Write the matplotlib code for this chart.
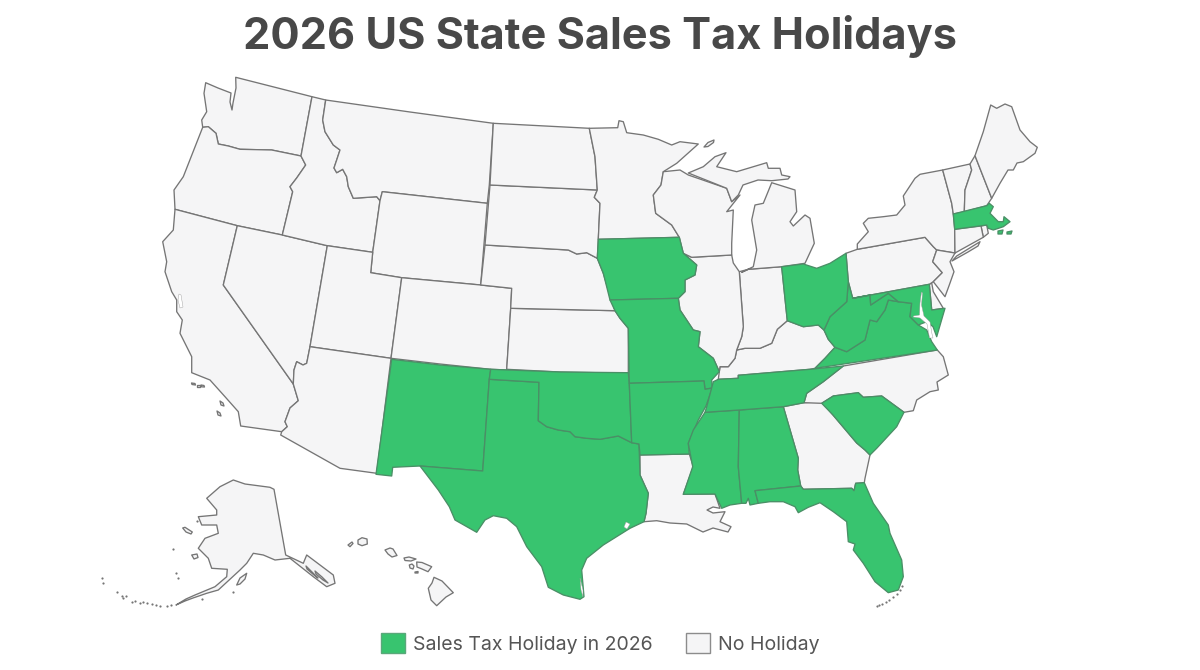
import matplotlib
matplotlib.use('Agg')
import matplotlib.pyplot as plt
from matplotlib.patches import Patch

plt.rcParams['font.family'] = ['Inter', 'DejaVu Sans']

# ====== Data: outlines (x, y in image pixels) ======

WA = [(205.7,82.7),(218,88),(231,93),(230,102),(232,110),(233,103),(236,88),(235.7,77.3),(312,96.7),(301,156),(271.7,150),(240,149.3),(228.3,146),(218.3,144),(216,133.3),(208.3,126.7),(202.7,127.3),(201.7,120),(206.7,111.7),(204,93.3)]
OR = [(202.7,127.3),(208.3,126.7),(216,133.3),(218.3,144),(228.3,146),(240,149.3),(271.7,150),(301,156),(305.7,165),(296.7,178),(290,186.7),(292.7,191.7),(282.3,235),(237.3,225.7),(175,209.3),(174,190),(183.3,176.7)]
CA = [(175,209.3),(237.3,225.7),(223.3,285),(293.3,384),(298.3,400.7),(290,408),(285,421.7),(287.3,426.7),(281.7,431.7),(240.7,426),(238.3,411.7),(225,396.7),(210,380),(191.7,372.7),(191.7,356.7),(180,333.3),(182.3,320),(176.7,311.7),(176.7,300),(171.7,291.7),(165,271.7),(166.7,261.7),(162.7,241.7),(173.3,230)]
NV = [(237.3,225.7),(282.3,235),(327.3,245.7),(310,346.7),(306.7,363.3),(303,365),(296.7,361.7),(294,370),(293.3,384),(223.3,285)]
ID = [(312,96.7),(325.7,100),(322.7,120),(325,131.7),(333.3,145),(340,150),(336.7,160),(334,168),(336.7,172.7),(342.7,169.3),(346.7,176.7),(348.3,186.7),(353.3,198.3),(376.7,196.7),(380,200.7),(372.7,252.3),(327.3,245.7),(282.3,235),(292.7,191.7),(290,186.7),(296.7,178),(305.7,165),(301,156)]
MT = [(325.7,100),(410,112),(493.3,123.3),(489.3,185),(487.3,203.3),(382.3,191.7),(380,200.7),(376.7,196.7),(353.3,198.3),(348.3,186.7),(346.7,176.7),(342.7,169.3),(336.7,172.7),(334,168),(336.7,160),(340,150),(333.3,145),(325,131.7),(322.7,120)]
WY = [(382.3,191.7),(487.3,203.3),(480.7,285),(401.7,277.7),(370.7,272.7),(372.7,252.3),(380,200.7)]
UT = [(327.3,245.7),(372.7,252.3),(370.7,272.7),(401.7,277.7),(391,358.3),(310,346.7)]
CO = [(401.7,277.7),(480.7,285),(511.7,288.3),(510.7,308.3),(506.7,370),(490.7,369.3),(440,364),(391,358.3)]
AZ = [(310,346.7),(391,358.3),(376.7,473.3),(340,468.3),(280.7,435),(281.7,431.7),(287.3,426.7),(285,421.7),(290,408),(298.3,400.7),(293.3,384),(294,370),(296.7,361.7),(303,365),(306.7,363.3)]
NM = [(391.7,359.3),(440,365),(490.7,369.3),(489.3,379.3),(482.7,471),(420,466),(392.7,467.3),(391.7,476),(376,474.3)]
TX = [(489.3,379.3),(539,382.3),(538.3,420.7),(546.7,426.7),(558.3,430),(570,431.7),(575,436.7),(586.7,438.3),(600,439.3),(618.3,436),(631.7,442.7),(639,444),(640,475),(648.3,493.3),(646,513.3),(644,521.7),(630,528.3),(603.3,545),(586.7,558.3),(581.7,570),(584,596.7),(580,599.3),(563.3,595),(548.3,587.3),(541.7,566.7),(526.7,546.7),(516.7,526.7),(506.7,518.3),(493.3,515.7),(485,520),(476.7,532.3),(455,520),(449.3,506.7),(438.3,490),(420,466),(482.7,471)]
OK = [(490.7,369.3),(560,372),(628.3,372.7),(629.3,383.3),(631.7,442.7),(618.3,436),(600,439.3),(586.7,438.3),(575,436.7),(570,431.7),(558.3,430),(546.7,426.7),(538.3,420.7),(539,382.3),(489.3,379.3)]
KS = [(510.7,308.3),(615,310.7),(620,318.3),(628.3,328.3),(628.3,373.3),(560,372),(506.7,369.3)]
NE = [(485,245),(568.3,250),(576.7,254),(586.7,252.7),(597.3,258.3),(603.3,273.3),(608.3,290),(615,310.7),(510.7,308.3),(511.7,288.3),(480.7,285)]
SD = [(490,185),(597.3,190),(594.3,197.3),(600,203.3),(598.3,239.3),(597.3,258.3),(586.7,252.7),(576.7,254),(568.3,250),(485,245)]
ND = [(493.3,123.3),(589.3,128.3),(595,156.7),(597.3,190),(490,185)]
MN = [(589.3,128.3),(617.7,127.7),(619,120.7),(623.3,121.7),(626.7,132.7),(643.3,135),(658.3,139.3),(671.7,145),(680,141.7),(698.3,144),(676.7,163.3),(663.3,171.7),(661,185),(653.3,195),(655.7,213.3),(671.7,225),(679.3,237.3),(598.3,239.3),(600,203.3),(594.3,197.3),(597.3,190),(595,156.7)]
IA = [(598.3,239.3),(679.3,237.3),(683.3,253.3),(696.7,265),(695,275),(685,280),(685,291.7),(678.3,298.3),(610,300),(603.3,273.3),(597.3,258.3)]
MO = [(610,300),(678.3,298.3),(680,310),(693.3,330),(700,331.7),(698.3,346.7),(713.3,358.3),(719.3,371.7),(711.7,380),(712.3,388),(705,389.3),(704,381),(629.3,383.3),(628.3,328.3),(620,318.3),(615,310.7)]
AR = [(629.3,383.3),(704,381),(705,389.3),(712.3,388),(706,406),(698.3,420),(688.3,443.3),(689.3,454),(640,455),(639,444),(631.7,442.7)]
LA = [(640,455),(689.3,454),(693.3,466.7),(683.3,494.3),(715,494),(720,508.3),(713,507),(707,510),(713,513),(725,511.7),(720,521.7),(731,526.7),(728,532),(713,528),(703,532),(686.7,524),(670,523),(656.7,520.7),(644,521.7),(646,513.3),(648.3,493.3),(640,475)]
MS = [(705,412.3),(739.3,410),(738.3,466.7),(741.7,503.3),(730,505),(721.7,508.3),(715,494),(683.3,494.3),(692.7,466.7),(688.3,443.3),(693.3,430)]
AL = [(739.3,410),(783.3,406.7),(798.3,458.3),(797.7,470),(800.7,486),(755,490.7),(758.3,503.3),(750,505),(748.3,498.3),(746,503.3),(741.7,503.3),(738.3,466.7)]
GA = [(783.3,406.7),(804,402.7),(821.7,401.7),(833,415),(856.7,443),(865,450),(870,455),(865,478.3),(864.3,482.7),(855.7,483.3),(854,490.7),(851.7,488.3),(803.3,489.3),(800.7,486),(797.7,470),(798.3,458.3)]
FL = [(755,490.7),(800.7,486),(803.3,489.3),(851.7,488.3),(854,490.7),(855.7,483.3),(864.3,482.7),(873.3,503.3),(888.3,525),(890,533.3),(901.7,560),(903.3,576.7),(898.3,590),(888.3,592.7),(875,581.7),(863.3,563.3),(853.3,550),(855,544),(848.3,541.7),(846.7,521.7),(833.3,511.7),(820,502.7),(808.3,507.3),(798.3,512.7),(795,506.7),(783.3,501.7),(770,501.7),(758.3,503.3)]
SC = [(821.7,403.3),(833.3,396),(858.3,392.7),(863.3,397.3),(881.7,396),(904,412.3),(896.7,426.7),(876.7,448.3),(870,455),(865,450),(856.7,443),(833,415)]
NC = [(804,402.7),(806.7,393.3),(823.3,381.7),(843.3,366),(937.3,350),(943.3,356.7),(948.3,375),(937,382),(938.3,390),(930,391.7),(916.7,400),(913.3,410.7),(904,412.3),(881.7,396),(863.3,397.3),(858.3,392.7),(833.3,396),(821.7,403.3)]
TN = [(843.3,366),(823.3,381.7),(806.7,393.3),(804,402.7),(783.3,406.7),(739.3,410),(705,412.3),(706.7,406.7),(713.3,381.7),(718.3,379.3),(738.3,378.3),(738.3,375.3),(810,369.3)]
KY = [(718.3,379.3),(720,366.7),(728.3,366.7),(735,358.3),(736.7,350),(745,348.3),(760,348.3),(771.7,343.3),(777.3,329.3),(787.3,320.7),(803.3,326.7),(818.3,325),(824,330),(828.3,339.3),(835,347.3),(825,358.3),(815,368.3),(810,369.3),(738.3,375.3),(738.3,378.3)]
VA = [(815,368.3),(937.3,350),(931.7,341.7),(926.7,330),(918.3,325),(910,316.7),(911.7,303.3),(898.3,301.7),(888.3,300),(885,310),(876.7,321.7),(870,320),(865,340),(846.7,351.7),(835,347.3),(825,358.3)]
WV = [(848.3,281.7),(852.7,298.3),(870,295),(870.7,305),(888.3,293.3),(898.3,301.7),(888.3,300),(885,310),(876.7,321.7),(870,320),(865,340),(846.7,351.7),(835,347.3),(828.3,339.3),(824,330),(830,316.7),(846.7,301.7)]
MD = [(852.7,298.3),(929.3,284.3),(931.7,310),(945,308.3),(936.7,336.7),(933,326.7),(926.7,321.7),(918.3,325),(910,316.7),(911.7,303.3),(898.3,301.7),(888.3,293.3),(870.7,305),(870,295)]
DE = [(929.3,284.3),(931.7,283),(933.3,291.7),(943.3,308.3),(931.7,310)]
PA = [(846,253.3),(857.3,249.3),(925,237.3),(933.3,246.7),(936.7,250),(932.7,261.7),(942.3,272.7),(933.3,281.7),(929.3,284.3),(852.7,298.3),(848.3,281.7)]
NY = [(857.3,249.3),(857.3,244),(868.3,231.7),(863.3,223.3),(868.3,218.3),(883.3,216.7),(896.7,215),(905,205),(903.3,196),(915,178.3),(920,174.3),(942.7,170),(951.7,203.3),(953.3,214),(954.7,229.3),(955,253),(936.7,250),(933.3,246.7),(925,237.3)]
LONG_ISLAND = [(956.7,256),(980,241.7),(978,246),(968,252),(952,261)]
NJ = [(936.7,250),(955,253),(950,261.7),(954,271.7),(949.3,285),(945,296.7),(933.3,281.7),(942.3,272.7),(932.7,261.7)]
VT = [(942.7,170),(970,164),(971.7,170),(965,190),(964.3,211.7),(953.3,214),(951.7,203.3)]
NH = [(970,164),(975,155.7),(991.7,198.3),(986.7,205.7),(964.3,211.7),(965,190),(971.7,170)]
ME = [(975,155.7),(983.3,131.7),(990.7,105),(996.7,108.3),(1005,104),(1011.7,106.7),(1020,130),(1030,141.7),(1037.3,147.3),(1035,153.3),(1023.3,161.7),(1017,163),(1013.3,170),(1008,170),(1000,183.3),(991.7,198.3)]
MA = [(953.3,214),(986.7,205.7),(989.3,203.3),(993.3,206.7),(990,213.3),(998.3,221.7),(1003.3,221.7),(1004,216.7),(1010,221.7),(1003.3,226.7),(993.3,230),(988.3,228.3),(986.7,225),(954.7,229.3)]
RI = [(981,226),(986.7,225),(988.3,233.3),(983.3,237.3)]
CT = [(954.7,229.3),(981,226),(983.3,237.3),(955,253)]
MA_ISLE_1 = [(998,231),(1003,230),(1002,234),(998,234)]
MA_ISLE_2 = [(1007,232),(1012,231),(1011,234),(1007,234)]
OH = [(781.7,266.7),(803.3,264),(816.7,268.3),(830,263.3),(846,253.3),(848.3,281.7),(846.7,301.7),(830,316.7),(824,330),(818.3,325),(803.3,326.7),(787.3,320.7)]
IN = [(739.3,271.7),(748.3,269.3),(781.7,266.7),(787.3,320.7),(777.3,329.3),(771.7,343.3),(760,348.3),(745,348.3),(736.7,350),(741.7,336.7),(743.3,326.7)]
IL = [(691.7,257.3),(731.7,255),(733.3,263),(739.3,271.7),(743.3,326.7),(741.7,336.7),(736.7,350),(735,358.3),(728.3,366.7),(720,366.7),(719.3,371.7),(713.3,358.3),(698.3,346.7),(700,331.7),(693.3,330),(680,310),(678.3,298.3),(685,291.7),(685,280),(695,275),(696.7,265),(683.3,253.3)]
WI = [(663.3,171.7),(680,170),(688.3,175),(726.7,188.3),(731.7,201.7),(740,195),(726.7,211.7),(733.3,210),(731.7,243.3),(731.7,255),(691.7,257.3),(683.3,253.3),(679.3,237.3),(671.7,225),(655.7,213.3),(653.3,195),(661,185)]
MI_UPPER = [(688.3,173),(703.3,166.7),(715,156.7),(726,152.7),(716.7,166.7),(736.7,171.7),(766.7,162.7),(768.3,168.3),(780,168.3),(781.7,175),(790,176.7),(788,179),(771.7,180.7),(758,180),(743,185),(738.3,195),(731.7,201.7),(726.7,188.3)]
MI_LOWER = [(771.7,182.7),(795,190),(796.7,211.7),(790,221.7),(793.3,226),(805,215),(810,218.3),(814.3,243.3),(805,263.3),(781.7,266.7),(748.3,269.3),(741.7,272.3),(753.3,266.7),(756.7,250),(751.7,220),(755,205),(763.3,203.3),(766.7,195)]
ISLE_ROYALE = [(704,147),(708,142.5),(714,140),(713.5,142.5),(708,146.5)]
AK = [(233.3,480),(245,484),(270,487.3),(274,489.3),(285.7,555),(303.3,563.3),(306.7,555),(333.3,575),(335,583.3),(326.7,586.7),(313.3,576.7),(290,558.3),(275,560),(263.3,555),(253.3,553.3),(246.7,563.3),(240,570),(218.3,590),(206.7,593.3),(193,598),(185,601),(176,605),(186,599),(195,595),(215,586.7),(226.7,576.7),(227.3,569.3),(211.7,568.3),(208.3,558.3),(198.3,548.3),(205,538.3),(218.3,533.3),(216.7,525),(201.7,525),(198.3,516.7),(216.7,515),(216.7,510),(206.7,498.3),(220,486.7)]
AK_SOUND_1 = [(306,566),(312,572),(318,578),(314,575),(307,569)]
AK_SOUND_2 = [(315,571),(322,577),(328,583),(323,580),(316,574)]
KODIAK = [(236.7,585),(240,578),(246.7,573.3),(245,579),(240,584)]
NUNIVAK = [(191.7,555),(197,554),(198,557.5),(194,559)]
ST_LAWRENCE = [(182.7,528),(185,527.3),(192.3,532),(191,534),(186,532)]
HI_BIG = [(434,577.3),(442,581),(453.3,592.7),(446,597),(436.7,605.7),(431,600),(428.3,588.3),(432,583)]
HI_MAUI = [(416.7,562),(422,562.5),(431.7,566.7),(428,571.7),(422,569),(417,567)]
HI_OAHU = [(385,550),(390,548),(393,549),(397,555.5),(392,557),(388,554)]
HI_MOLOKAI = [(404,558),(409,557),(416,559),(411,561),(405,560.5)]
HI_LANAI = [(409.3,565),(412,564),(414,566),(413,569),(410,568)]
HI_KAHOOLAWE = [(415,572),(418,571.5),(418,573),(415,573)]
HI_KAUAI = [(358,540),(362,537.7),(367,539),(367.3,544),(362,545.7),(358,544)]
HI_NIIHAU = [(348,545),(352,542),(353,543.5),(350,546.7)]
CA_ISLE_1 = [(191.5,383),(195,383.5),(195.5,385),(192,384.5)]
CA_ISLE_2 = [(196.5,385),(200,385),(200,386.8),(197,386.8)]
CA_ISLE_3 = [(201,385),(204,385.5),(204.5,387),(201.5,386.8)]
CA_ISLE_4 = [(220,401),(223,403),(224,406),(221,405)]
CA_ISLE_5 = [(217,411),(220,413),(221,416),(218,415)]

# states with a 2026 holiday and those without
holiday_parts = [NM, TX, OK, IA, MO, AR, MS, AL, FL, SC, TN, VA, WV, MD, OH, MA, MA_ISLE_1, MA_ISLE_2]
other_parts = [WA, OR, CA, NV, ID, MT, WY, UT, CO, AZ, KS, NE, SD, ND, MN, LA, GA, NC, KY, DE, PA, NY,
               LONG_ISLAND, NJ, VT, NH, ME, RI, CT, IN, IL, WI, MI_UPPER, MI_LOWER, ISLE_ROYALE, AK,
               AK_SOUND_1, AK_SOUND_2, KODIAK, NUNIVAK, ST_LAWRENCE, HI_BIG, HI_MAUI, HI_OAHU, HI_MOLOKAI,
               HI_LANAI, HI_KAHOOLAWE, HI_KAUAI, HI_NIIHAU, CA_ISLE_1, CA_ISLE_2, CA_ISLE_3, CA_ISLE_4,
               CA_ISLE_5]

# water cut out of the coast
chesapeake = [(921.5,292),(922.5,293),(921.5,305),(924,316),(930,322),(932,334),(933,338),(929.5,338),(927,324),(920,318),(913,317),(913.5,316),(919.5,315),(920,303)]
sf_bay = [(179,294),(181,295),(183,307),(180,308),(178,300)]
galveston = [(626,522),(630,524),(627,529),(624,527)]
padre = [(580,578),(583,590),(583,597),(581,590)]

# Aleutians and other specks, too small to be anything but dots
speck_x = [101.7,103,116.7,121.7,123,126,131.7,135,140,143,147,151.7,156,160,166.7,171,176,173.3,196.7,202.3,232.7,177.7]
speck_y = [578.3,582.7,592.3,596,598,596,601.7,601,602.7,602,603,604,604.5,605.7,605.7,605,573.3,549,520.7,599,591.7,578.3]
keys_x = [877,879,882,886,889,893,897,900,902]
keys_y = [606,605,604,602,600,597,594,590,586]

title = '2026 US State Sales Tax Holidays'
legend_labels = ['Sales Tax Holiday in 2026', 'No Holiday']

green = '#38C46F'
light = '#F5F5F6'
edge = '#757575'
text_color = '#484848'

# ====== Plot ======

fig = plt.figure(figsize=(12, 6.7), dpi=100)
ax = fig.add_axes([0, 0, 1, 1])
ax.set_xlim(0, 1200)
ax.set_ylim(670, 0)
ax.axis('off')

for part in other_parts:
    xs, ys = zip(*part)
    ax.fill(xs, ys, facecolor=light, edgecolor=edge, linewidth=0.95, joinstyle='round')
for part in holiday_parts:
    xs, ys = zip(*part)
    ax.fill(xs, ys, facecolor=green, edgecolor='#4A8F66', linewidth=0.95, joinstyle='round')
for part in [chesapeake, sf_bay, galveston, padre]:
    xs, ys = zip(*part)
    ax.fill(xs, ys, facecolor='white', edgecolor='#9a9a9a', linewidth=0.3)

ax.scatter(speck_x, speck_y, s=2.5, color=edge, linewidths=0)
ax.scatter(keys_x, keys_y, s=2.5, color=edge, linewidths=0)

ax.text(600, 37, title, ha='center', va='center', fontsize=31.2, fontweight='bold', color=text_color)

handles = [Patch(facecolor=green, edgecolor='#5aa87a', linewidth=1),
           Patch(facecolor=light, edgecolor='#8c8c8c', linewidth=1)]
ax.legend(handles, legend_labels, loc='center', bbox_to_anchor=(0.5, 0.04), ncol=2, frameon=False,
          fontsize=14, labelcolor='#555555', handlelength=1.25, handleheight=1.25,
          handletextpad=0.4, columnspacing=1.7)

plt.savefig('out.png', dpi=100)
